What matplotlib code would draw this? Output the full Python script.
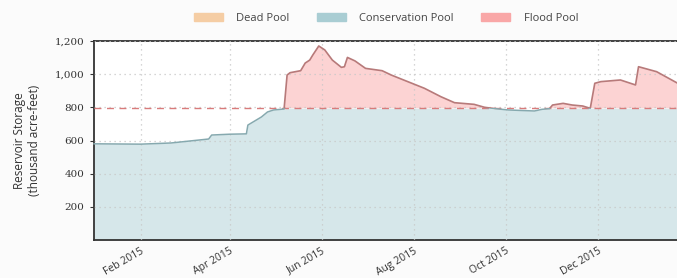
import matplotlib
matplotlib.use("Agg")
import matplotlib.pyplot as plt
import matplotlib.dates as mdates
import matplotlib.ticker as mticker
from matplotlib.patches import Patch, Rectangle
import numpy as np
import pandas as pd

# ---- data ----
dates = pd.to_datetime([
    "2015-01-01", "2015-02-01", "2015-02-21", "2015-03-18", "2015-03-20",
    "2015-04-01", "2015-04-12", "2015-04-13", "2015-04-22", "2015-04-26",
    "2015-04-30", "2015-05-07", "2015-05-09", "2015-05-11", "2015-05-18",
    "2015-05-21", "2015-05-24", "2015-05-26", "2015-05-30", "2015-06-03",
    "2015-06-08", "2015-06-14", "2015-06-16", "2015-06-18", "2015-06-23",
    "2015-06-30", "2015-07-11", "2015-07-17", "2015-07-28", "2015-08-08",
    "2015-08-19", "2015-08-28", "2015-09-10", "2015-09-17", "2015-09-26",
    "2015-10-03", "2015-10-20", "2015-10-25", "2015-10-30", "2015-11-01",
    "2015-11-08", "2015-11-14", "2015-11-21", "2015-11-26", "2015-11-29",
    "2015-12-03", "2015-12-16", "2015-12-26", "2015-12-28", "2016-01-09",
    "2016-01-27",
])
storage = [
    580, 578, 585, 609, 633,
    638, 640, 693, 742, 772,
    784, 790, 995, 1009, 1021,
    1067, 1085, 1115, 1170, 1146,
    1085, 1041, 1045, 1101, 1080,
    1035, 1021, 995, 955, 915,
    864, 828, 818, 800, 790,
    784, 778, 788, 792, 814,
    824, 814, 808, 794, 945,
    955, 965, 935, 1045, 1015,
    925,
]
conservation_top = 795
legend_labels = ["Dead Pool", "Conservation Pool", "Flood Pool"]
y_ticks = [200, 400, 600, 800, 1000, 1200]

storage = np.array(storage, dtype=float)
cons = np.minimum(storage, conservation_top)

fig = plt.figure(figsize=(6.77, 2.78), dpi=100, facecolor="#fbfbfb")
ax = fig.add_axes([0.1389, 0.1367, 0.8611 + 0.01, 0.7158])
ax.set_facecolor("white")

xmin, xmax = pd.Timestamp("2015-01-01"), pd.Timestamp("2016-01-27")
ax.set_ylim(0, 1200)
ax.set_xlim(xmin, xmax)

ax.fill_between(dates, 0, cons, color="#d6e7ea", lw=0, zorder=1)
ax.fill_between(dates, conservation_top, storage, where=storage >= conservation_top,
                interpolate=True, color="#fcd3d3", lw=0, zorder=1)

x0n, x1n = mdates.date2num(xmin) - 50, mdates.date2num(xmax) + 50
clip_low = Rectangle((x0n, -100), x1n - x0n, conservation_top + 100,
                     transform=ax.transData, visible=False)
clip_high = Rectangle((x0n, conservation_top), x1n - x0n, 1000,
                      transform=ax.transData, visible=False)
ax.add_patch(clip_low)
ax.add_patch(clip_high)

ax.axhline(conservation_top, color="#d97b7b", lw=1.0, ls=(0, (5, 4)), zorder=3)
l1, = ax.plot(dates, storage, color="#86a9af", lw=1.1, zorder=4)
l1.set_clip_path(clip_low)
l2, = ax.plot(dates, storage, color="#b77a7a", lw=1.2, zorder=5)
l2.set_clip_path(clip_high)

ax.set_yticks(y_ticks)
ax.yaxis.set_major_formatter(mticker.FuncFormatter(lambda v, p: f"{int(v):,}"))
ax.xaxis.set_major_locator(mdates.MonthLocator(bymonth=[2, 4, 6, 8, 10, 12]))
ax.xaxis.set_major_formatter(mdates.DateFormatter("%b %Y"))

ax.grid(True, color="#c8c8c8", ls=(0, (1, 3)), lw=0.9, zorder=2)
ax.set_axisbelow(False)

for lab in ax.get_yticklabels():
    lab.set_fontfamily("DejaVu Serif")
    lab.set_fontsize(7.5)
    lab.set_color("#333333")
for lab in ax.get_xticklabels():
    lab.set_fontfamily("Open Sans")
    lab.set_fontsize(7.5)
    lab.set_color("#333333")
    lab.set_rotation(30)
    lab.set_ha("right")
    lab.set_rotation_mode("anchor")

ax.tick_params(axis="x", length=0, pad=4)
ax.tick_params(axis="y", length=3, color="#333333", pad=4)

for s in ["top", "left", "bottom"]:
    ax.spines[s].set_color("#333333")
    ax.spines[s].set_linewidth(1.3)
ax.spines["right"].set_visible(False)

ax.set_ylabel("Reservoir Storage\n(thousand acre-feet)", fontfamily="Open Sans",
              fontsize=8.5, color="#333333", labelpad=10)

handles = [Patch(color="#f5cda4"), Patch(color="#a9cdd3"), Patch(color="#f9a7a7")]
leg = fig.legend(handles, legend_labels, loc="center", bbox_to_anchor=(0.57, 0.935),
                 ncol=3, frameon=False, handlelength=2.6, handleheight=0.75,
                 columnspacing=2.5, handletextpad=1.2,
                 prop={"family": "Open Sans", "size": 8})
for t in leg.get_texts():
    t.set_color("#444444")

fig.savefig("out.png", dpi=100, facecolor=fig.get_facecolor())
